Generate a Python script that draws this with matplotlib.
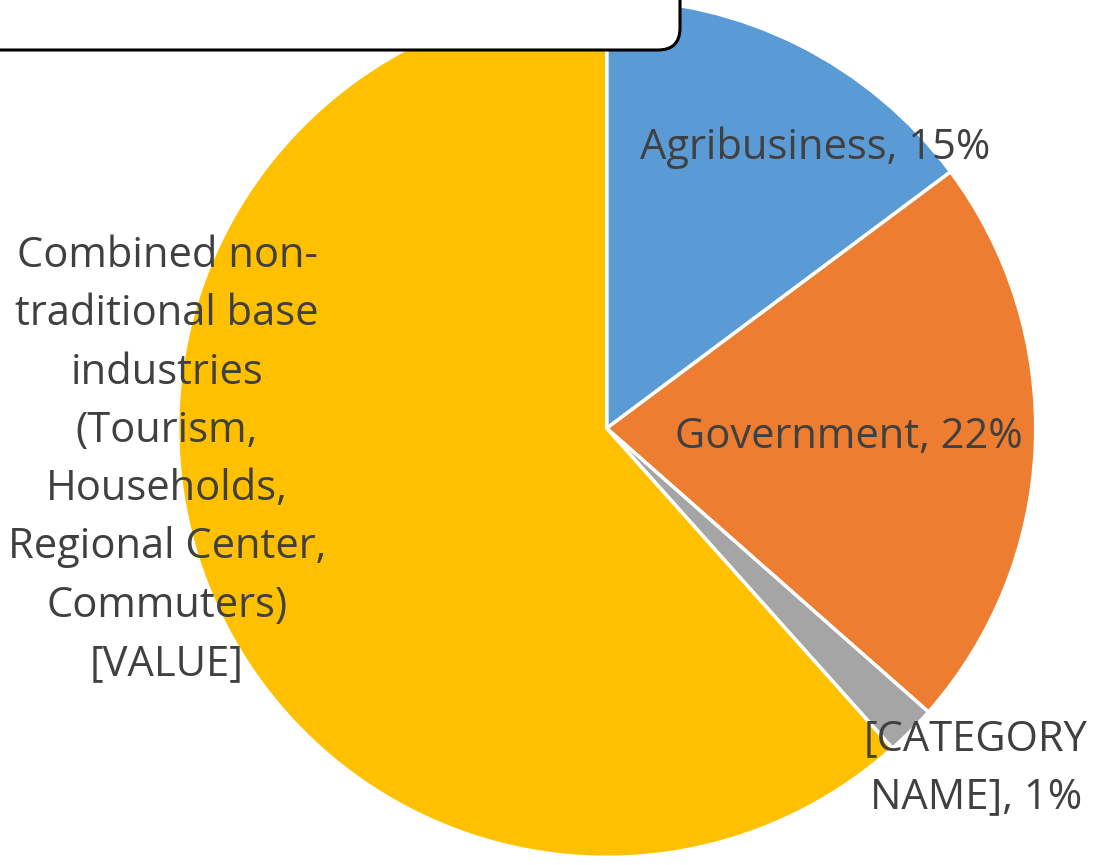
import matplotlib
matplotlib.use("Agg")
import matplotlib.pyplot as plt
from matplotlib.patches import FancyBboxPatch

categories = ["Agribusiness", "Government", "[CATEGORY NAME]",
              "Combined non-traditional base industries (Tourism, Households, Regional Center, Commuters)"]
values = [14.8, 21.7, 1.9, 61.6]
label_texts = ["Agribusiness, 15%", "Government, 22%", "[CATEGORY\nNAME], 1%",
               "Combined non-\ntraditional base\nindustries\n(Tourism,\nHouseholds,\nRegional Center,\nCommuters)\n[VALUE]"]
colors = ["#5B9BD5", "#ED7D31", "#A5A5A5", "#FFC000"]

W, H = 1095, 865
fig = plt.figure(figsize=(W / 100, H / 100), dpi=100)
ax = fig.add_axes([0, 0, 1, 1])

cx, cy, r = 606.7, H - 428.3, 429
ax.pie(values, colors=colors, startangle=90, counterclock=False,
       center=(cx, cy), radius=r, frame=True,
       wedgeprops=dict(edgecolor="white", linewidth=2.5))
ax.set_xlim(0, W)
ax.set_ylim(0, H)
ax.set_aspect("equal")
ax.axis("off")

font = "Open Sans"
fs = 30
txt_color = "#404040"
label_pos = [(815, 148), (849, 437), (976, 768), (167, 460)]
for t, (x, y) in zip(label_texts, label_pos):
    ax.text(x, H - y, t, ha="center", va="center", fontsize=fs, family=font,
            color=txt_color, linespacing=1.51, zorder=5)

box = FancyBboxPatch((-60, H - 50), 740, 120,
                     boxstyle="round,pad=0,rounding_size=22",
                     facecolor="white", edgecolor="black", linewidth=2.2,
                     zorder=6, clip_on=False)
ax.add_patch(box)

fig.savefig("out.png", dpi=100)
